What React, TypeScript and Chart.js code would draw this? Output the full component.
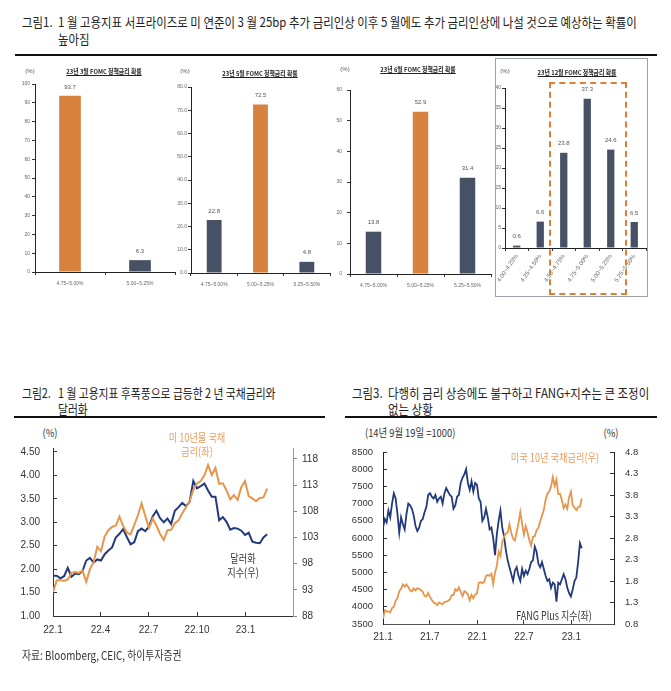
import React, { useEffect, useRef } from 'react';
import { Chart, registerables } from 'chart.js';
Chart.register(...registerables);

const KR = '"Noto Sans CJK KR", "Noto Sans", sans-serif';
const NUM = '"Liberation Sans", Arial, sans-serif';
const ORANGE_BAR = '#D8823F';
const NAVY_BAR = '#475165';
const LINE_ORANGE = '#E8954C';
const LINE_BLUE = '#223A7C';
const TEXT_ORANGE = '#E99E5C';

// ---------- Figure 1 : FOMC policy-rate probabilities ----------
const marchCats = ['4.75~5.00%', '5.00~5.25%'];
const marchVals = [93.7, 6.3];
const mayCats = ['4.75~5.00%', '5.00~5.25%', '5.25~5.50%'];
const mayVals = [22.8, 72.5, 4.8];
const juneCats = ['4.75~5.00%', '5.00~5.25%', '5.25~5.50%'];
const juneVals = [13.8, 52.9, 31.4];
const decCats = ['4.00~4.25%', '4.25~4.50%', '4.50~4.75%', '4.75~5.00%', '5.00~5.25%', '5.25~5.50%'];
const decVals = [0.6, 6.6, 23.8, 37.3, 24.6, 6.5];

// ---------- Figure 2 / 3 : weekly (Friday) closes ----------
// US 10Y yield, weekly from 2021-01-01
const us10y = [
  0.92, 1.12, 1.09, 1.09, 1.07, 1.17, 1.20, 1.34, 1.41, 1.56,
  1.62, 1.72, 1.67, 1.72, 1.66, 1.58, 1.56, 1.63, 1.58, 1.63,
  1.62, 1.59, 1.55, 1.45, 1.44, 1.52, 1.43, 1.36, 1.30, 1.28,
  1.24, 1.30, 1.28, 1.26, 1.31, 1.32, 1.34, 1.37, 1.47, 1.47,
  1.61, 1.57, 1.65, 1.55, 1.45, 1.56, 1.54, 1.48, 1.35, 1.48,
  1.40, 1.49, 1.51, 1.76, 1.77, 1.75, 1.78, 1.92, 1.94, 1.92,
  1.97, 1.73, 2.00, 2.15, 2.48, 2.38, 2.70, 2.83, 2.90, 2.93,
  3.12, 2.92, 2.78, 2.74, 2.94, 3.15, 3.40, 3.13, 2.88, 3.08,
  2.93, 2.75, 2.62, 2.83, 2.84, 2.98, 3.04, 3.19, 3.32, 3.45,
  3.69, 3.83, 3.88, 4.00, 4.22, 4.01, 4.16, 3.82, 3.83, 3.68,
  3.49, 3.58, 3.48, 3.75, 3.88, 3.56, 3.51, 3.45, 3.52, 3.53,
  3.72,
];
// Dollar index, weekly from 2021-12-31
const dxy = [
  95.7, 95.7, 95.2, 95.6, 97.2, 95.5, 96.1, 96.0, 96.6, 98.6,
  99.1, 98.2, 98.8, 98.6, 99.8, 100.5, 101.1, 103.0, 103.7, 104.6,
  103.1, 101.7, 102.1, 104.2, 104.7, 104.2, 105.1, 107.0, 108.1, 106.7,
  105.9, 106.6, 105.6, 108.1, 108.8, 109.6, 109.0, 109.8, 113.8, 112.4,
  112.8, 113.3, 112.0, 110.8, 110.8, 106.3, 106.9, 106.0, 104.5, 104.8,
  104.7, 104.3, 103.5, 103.9, 102.2, 102.0, 101.9, 103.0, 103.6,
];
// NYSE FANG+ index, weekly from 2021-01-01
const fangPlus = [
  6300, 6550, 6450, 6800, 6600, 7000, 7300, 7150, 6700, 6150,
  6600, 6400, 6250, 6700, 7000, 6950, 6850, 6650, 6350, 6200,
  6300, 6500, 6550, 6750, 6900, 7250, 7300, 7200, 7150, 7250,
  7050, 7150, 7200, 7000, 7300, 7450, 7350, 7250, 7200, 6850,
  6950, 7200, 7250, 7600, 7750, 7850, 8000, 7600, 7400, 7650,
  7350, 7600, 7550, 7150, 7050, 6500, 6600, 6850, 6600, 6250,
  6300, 6000, 5500, 6100, 6500, 6800, 6300, 6050, 5650, 5350,
  5150, 4950, 4750, 5050, 5150, 4900, 4750, 5100, 4900, 5050,
  4950, 5100, 5300, 5350, 5750, 5600, 5250, 5150, 5300, 5100,
  4900, 4750, 4800, 4550, 4700, 4650, 4150, 4700, 4650, 4800,
  4950, 4800, 4550, 4400, 4300, 4500, 4750, 4850, 5300, 5850,
  5700,
];

const fig2XTicks = [0, 90, 181, 273, 365];
const fig2XLabels = ['22.1', '22.4', '22.7', '22.10', '23.1'];
const fig2LeftTicks = [1.0, 1.5, 2.0, 2.5, 3.0, 3.5, 4.0, 4.5];
const fig2RightTicks = [88, 93, 98, 103, 108, 113, 118];
const fig3XTicks = [0, 181, 365, 546, 730];
const fig3XLabels = ['21.1', '21.7', '22.1', '22.7', '23.1'];
const fig3LeftTicks = [3500, 4000, 4500, 5000, 5500, 6000, 6500, 7000, 7500, 8000, 8500];
const fig3RightTicks = [0.8, 1.3, 1.8, 2.3, 2.8, 3.3, 3.8, 4.3, 4.8];

type Box = { x: number; y: number; w: number; h: number };
type Area = { left: number; right: number; top: number; bottom: number };

const noPad = (s: any) => {
  s.paddingTop = 0; s.paddingBottom = 0; s.paddingLeft = 0; s.paddingRight = 0;
};

const valueLabels = {
  id: 'valueLabels',
  afterDatasetsDraw(chart: any) {
    const { ctx } = chart;
    const meta = chart.getDatasetMeta(0);
    const vals = chart.data.datasets[0].data;
    ctx.save();
    ctx.font = `6px ${NUM}`;
    ctx.fillStyle = '#555';
    ctx.textAlign = 'center';
    ctx.textBaseline = 'bottom';
    meta.data.forEach((bar: any, i: number) => {
      ctx.fillText(String(vals[i]), bar.x, bar.y - 6);
    });
    ctx.restore();
  },
};

function barConfig(o: {
  cats: string[]; vals: number[]; hi: number; yMax: number; yStep: number; dec: number;
  box: Box; area: Area; barPct: number; rot: number; yPad: number; xPad: number; xFont: number;
}) {
  const { cats, vals, hi, yMax, yStep, dec, box, area, barPct, rot, yPad, xPad, xFont } = o;
  return {
    type: 'bar',
    data: {
      labels: cats,
      datasets: [{
        data: vals,
        backgroundColor: vals.map((_, i) => (i === hi ? ORANGE_BAR : NAVY_BAR)),
        barPercentage: barPct,
        categoryPercentage: 1,
      }],
    },
    options: {
      animation: false,
      responsive: false,
      layout: { padding: { top: area.top - box.y, right: box.x + box.w - area.right, left: 0, bottom: 0 } },
      plugins: { legend: { display: false }, tooltip: { enabled: false } },
      scales: {
        x: {
          grid: { offset: true, drawOnChartArea: false, tickLength: 3, color: '#333' },
          border: { color: '#222', width: 1 },
          ticks: {
            font: { family: NUM, size: xFont }, color: '#666', maxRotation: rot, minRotation: rot,
            autoSkip: false, padding: xPad,
          },
          afterFit: (s: any) => { s.height = box.y + box.h - area.bottom; noPad(s); },
        },
        y: {
          min: 0, max: yMax,
          grid: { drawOnChartArea: false, tickLength: 3, color: '#333' },
          border: { color: '#222', width: 1 },
          ticks: {
            stepSize: yStep, font: { family: NUM, size: 5 }, color: '#666', padding: yPad,
            callback: (v: any) => Number(v).toFixed(dec),
          },
          afterFit: (s: any) => { s.width = area.left - box.x; noPad(s); },
        },
      },
    },
    plugins: [valueLabels],
  };
}

function fig2Config() {
  const box: Box = { x: 0, y: 440, w: 335, h: 210 };
  const area: Area = { left: 53, right: 293, top: 448, bottom: 616 };
  const yieldPts = us10y.slice(52).map((v, i) => ({ x: i * 7, y: v }));
  const dxyPts = dxy.map((v, i) => ({ x: i * 7, y: v }));
  return {
    type: 'line',
    data: {
      datasets: [
        { data: yieldPts, borderColor: LINE_ORANGE, borderWidth: 2, pointRadius: 0, yAxisID: 'yL' },
        { data: dxyPts, borderColor: LINE_BLUE, borderWidth: 2, pointRadius: 0, yAxisID: 'yR' },
      ],
    },
    options: {
      animation: false,
      responsive: false,
      layout: { padding: { top: area.top - box.y, right: 0, left: 0, bottom: 0 } },
      plugins: { legend: { display: false }, tooltip: { enabled: false } },
      scales: {
        x: {
          type: 'linear', min: 0, max: 455,
          grid: { drawOnChartArea: false, tickLength: -4, color: '#333' },
          border: { color: '#333', width: 1 },
          afterBuildTicks: (s: any) => { s.ticks = fig2XTicks.map((v) => ({ value: v })); },
          ticks: {
            font: { family: NUM, size: 10 }, color: '#333', padding: 12, maxRotation: 0, autoSkip: false,
            callback: (v: any) => { const k = fig2XTicks.indexOf(Number(v)); return k >= 0 ? fig2XLabels[k] : ''; },
          },
          afterFit: (s: any) => { s.height = box.y + box.h - area.bottom; noPad(s); },
        },
        yL: {
          position: 'left', min: 1, max: 4.585,
          grid: { drawOnChartArea: false, tickLength: -4, color: '#333' },
          border: { color: '#333', width: 1 },
          afterBuildTicks: (s: any) => { s.ticks = fig2LeftTicks.map((v) => ({ value: v })); },
          ticks: { font: { family: NUM, size: 10 }, color: '#333', padding: 17, callback: (v: any) => Number(v).toFixed(2) },
          afterFit: (s: any) => { s.width = area.left - box.x; noPad(s); },
        },
        yR: {
          position: 'right', min: 88, max: 120.1,
          grid: { drawOnChartArea: false, tickLength: 4, color: '#888' },
          border: { color: '#999', width: 1 },
          afterBuildTicks: (s: any) => { s.ticks = fig2RightTicks.map((v) => ({ value: v })); },
          ticks: { font: { family: NUM, size: 10 }, color: '#333', padding: 5, callback: (v: any) => String(v) },
          afterFit: (s: any) => { s.width = box.x + box.w - area.right; noPad(s); },
        },
      },
    },
  };
}

function fig3Config() {
  const box: Box = { x: 335, y: 440, w: 336, h: 210 };
  const area: Area = { left: 383, right: 614, top: 452, bottom: 624 };
  const yieldPts = us10y.map((v, i) => ({ x: i * 7, y: v }));
  const fangPts = fangPlus.map((v, i) => ({ x: i * 7, y: v }));
  return {
    type: 'line',
    data: {
      datasets: [
        { data: yieldPts, borderColor: LINE_ORANGE, borderWidth: 1.8, pointRadius: 0, yAxisID: 'yR' },
        { data: fangPts, borderColor: LINE_BLUE, borderWidth: 1.8, pointRadius: 0, yAxisID: 'yL' },
      ],
    },
    options: {
      animation: false,
      responsive: false,
      layout: { padding: { top: area.top - box.y, right: 0, left: 0, bottom: 0 } },
      plugins: { legend: { display: false }, tooltip: { enabled: false } },
      scales: {
        x: {
          type: 'linear', min: 0, max: 895,
          grid: { drawOnChartArea: false, tickLength: -4, color: '#333' },
          border: { color: '#555', width: 1 },
          afterBuildTicks: (s: any) => { s.ticks = fig3XTicks.map((v) => ({ value: v })); },
          ticks: {
            font: { family: NUM, size: 10 }, color: '#333', padding: 11, maxRotation: 0, autoSkip: false,
            callback: (v: any) => { const k = fig3XTicks.indexOf(Number(v)); return k >= 0 ? fig3XLabels[k] : ''; },
          },
          afterFit: (s: any) => { s.height = box.y + box.h - area.bottom; noPad(s); },
        },
        yL: {
          position: 'left', min: 3500, max: 8500,
          grid: { drawOnChartArea: false, tickLength: -4, color: '#333' },
          border: { color: '#222', width: 1 },
          afterBuildTicks: (s: any) => { s.ticks = fig3LeftTicks.map((v) => ({ value: v })); },
          ticks: { font: { family: NUM, size: 9.5 }, color: '#333', padding: 14, callback: (v: any) => String(v) },
          afterFit: (s: any) => { s.width = area.left - box.x; noPad(s); },
        },
        yR: {
          position: 'right', min: 0.8, max: 4.8,
          grid: { drawOnChartArea: false, tickLength: -4, color: '#333' },
          border: { color: '#222', width: 1 },
          afterBuildTicks: (s: any) => { s.ticks = fig3RightTicks.map((v) => ({ value: v })); },
          ticks: { font: { family: NUM, size: 9.5 }, color: '#333', padding: 15, callback: (v: any) => Number(v).toFixed(1) },
          afterFit: (s: any) => { s.width = box.x + box.w - area.right; noPad(s); },
        },
      },
    },
  };
}

function ChartCanvas({ box, make }: { box: Box; make: () => any }) {
  const ref = useRef<HTMLCanvasElement | null>(null);
  useEffect(() => {
    if (!ref.current) return;
    const chart = new Chart(ref.current, make());
    return () => chart.destroy();
  }, []);
  return (
    <canvas
      ref={ref}
      width={box.w}
      height={box.h}
      style={{ position: 'absolute', left: box.x, top: box.y, width: box.w, height: box.h }}
    />
  );
}

function T(p: {
  x: number; y: number; text: string; size?: number; sx?: number; color?: string;
  bold?: boolean; underline?: boolean; align?: 'left' | 'center' | 'right'; family?: string;
}) {
  const { x, y, text, size = 13, sx = 1, color = '#222', bold = false, underline = false, align = 'left', family = KR } = p;
  const lh = Math.round(size * 1.3);
  const origin = align === 'center' ? '50% 50%' : align === 'right' ? '100% 50%' : '0 50%';
  const shift = align === 'center' ? 'translateX(-50%) ' : align === 'right' ? 'translateX(-100%) ' : '';
  return (
    <div
      style={{
        position: 'absolute', left: x, top: y - lh / 2, whiteSpace: 'nowrap', fontSize: size,
        lineHeight: `${lh}px`, fontFamily: family, color, fontWeight: bold ? 700 : 400,
        textDecoration: underline ? 'underline' : 'none', transformOrigin: origin,
        transform: `${shift}scaleX(${sx})`,
      }}
    >
      {text}
    </div>
  );
}

const Rule = ({ x, y, w }: { x: number; y: number; w: number }) => (
  <div style={{ position: 'absolute', left: x, top: y, width: w, height: 1.5, background: '#111' }} />
);

export default function App() {
  const b1: Box = { x: 0, y: 60, w: 180, h: 240 };
  const b2: Box = { x: 160, y: 60, w: 175, h: 240 };
  const b3: Box = { x: 322, y: 60, w: 172, h: 240 };
  const b4: Box = { x: 490, y: 60, w: 165, h: 240 };
  return (
    <div style={{ position: 'absolute', left: 0, top: 0, width: 671, height: 691, background: '#fff', overflow: 'hidden' }}>
      {/* Figure 1 heading */}
      <T x={22} y={21} text="그림1." size={13} sx={0.88} />
      <T x={58} y={21} size={13} sx={0.88} text="1 월 고용지표 서프라이즈로 미 연준이 3 월 25bp 추가 금리인상 이후 5 월에도 추가 금리인상에 나설 것으로 예상하는 확률이" />
      <T x={58} y={38} size={13} sx={0.88} text="높아짐" />
      <Rule x={15} y={54} w={642} />

      {/* Figure 1 panels */}
      <div style={{ position: 'absolute', left: 495, top: 58, width: 151, height: 237, border: '1.5px solid #9AA3AE' }} />
      <ChartCanvas box={b1} make={() => barConfig({ cats: marchCats, vals: marchVals, hi: 0, yMax: 100, yStep: 10, dec: 0, box: b1, area: { left: 35, right: 175, top: 84, bottom: 272 }, barPct: 0.31, rot: 0, yPad: 2, xPad: 6, xFont: 5 })} />
      <ChartCanvas box={b2} make={() => barConfig({ cats: mayCats, vals: mayVals, hi: 1, yMax: 80, yStep: 10, dec: 1, box: b2, area: { left: 191, right: 330, top: 87, bottom: 273 }, barPct: 0.32, rot: 0, yPad: 1, xPad: 6, xFont: 5 })} />
      <ChartCanvas box={b3} make={() => barConfig({ cats: juneCats, vals: juneVals, hi: 1, yMax: 60, yStep: 10, dec: 0, box: b3, area: { left: 350, right: 491, top: 90, bottom: 274 }, barPct: 0.33, rot: 0, yPad: 5, xPad: 6, xFont: 5 })} />
      <ChartCanvas box={b4} make={() => barConfig({ cats: decCats, vals: decVals, hi: -1, yMax: 40, yStep: 5, dec: 0, box: b4, area: { left: 505, right: 646, top: 88, bottom: 248 }, barPct: 0.31, rot: 55, yPad: 1, xPad: 2, xFont: 6 })} />
      <div style={{ position: 'absolute', left: 549, top: 82, width: 74, height: 209, border: '2px dashed #E07E34' }} />

      <T x={104} y={71} text="23년 3월 FOMC 정책금리 확률" size={6.5} sx={0.9} bold underline align="center" />
      <T x={260} y={73} text="23년 5월 FOMC 정책금리 확률" size={6.5} sx={0.9} bold underline align="center" />
      <T x={418} y={69} text="23년 6월 FOMC 정책금리 확률" size={6.5} sx={0.9} bold underline align="center" />
      <T x={577} y={72} text="23년 12월 FOMC 정책금리 확률" size={6.5} sx={0.9} bold underline align="center" />
      <T x={30} y={71} text="(%)" size={6} color="#555" align="center" family={NUM} />
      <T x={185} y={71} text="(%)" size={6} color="#555" align="center" family={NUM} />
      <T x={345} y={69} text="(%)" size={6} color="#555" align="center" family={NUM} />
      <T x={505} y={71} text="(%)" size={6} color="#555" align="center" family={NUM} />

      {/* Figure 2 */}
      <T x={22} y={392} text="그림2." size={13} sx={0.83} />
      <T x={58} y={392} size={13} sx={0.83} text="1 월 고용지표 후폭풍으로 급등한 2 년 국채금리와" />
      <T x={58} y={408} size={13} sx={0.83} text="달러화" />
      <Rule x={14} y={416} w={311} />
      <ChartCanvas box={{ x: 0, y: 440, w: 335, h: 210 }} make={fig2Config} />
      <T x={50} y={432} text="(%)" size={11} sx={0.85} color="#333" align="center" />
      <T x={197} y={437} text="미 10년물 국채" size={11.5} sx={0.8} color={TEXT_ORANGE} align="center" />
      <T x={197} y={451} text="금리(좌)" size={11.5} sx={0.8} color={TEXT_ORANGE} align="center" />
      <T x={243} y={558} text="달러화" size={11.5} sx={0.8} color="#333" align="center" />
      <T x={243} y={572} text="지수(우)" size={11.5} sx={0.8} color="#333" align="center" />

      {/* Figure 3 */}
      <T x={352} y={392} text="그림3." size={13} sx={0.88} />
      <T x={388} y={392} size={13} sx={0.88} text="다행히 금리 상승에도 불구하고 FANG+지수는 큰 조정이" />
      <T x={388} y={408} size={13} sx={0.88} text="없는 상황" />
      <Rule x={345} y={416} w={312} />
      <ChartCanvas box={{ x: 335, y: 440, w: 336, h: 210 }} make={fig3Config} />
      <T x={365} y={432} text="(14년 9월 19일 =1000)" size={11} sx={0.85} color="#333" />
      <T x={611} y={432} text="(%)" size={11} sx={0.85} color="#333" align="center" />
      <T x={555} y={457} text="미국 10년 국채금리(우)" size={11.5} sx={0.8} color={TEXT_ORANGE} align="center" />
      <T x={554} y={615} text="FANG Plus 지수(좌)" size={11.5} sx={0.78} color="#333" align="center" />

      {/* Source */}
      <T x={22} y={655} text="자료: Bloomberg, CEIC, 하이투자증권" size={12} sx={0.82} color="#333" />
    </div>
  );
}
